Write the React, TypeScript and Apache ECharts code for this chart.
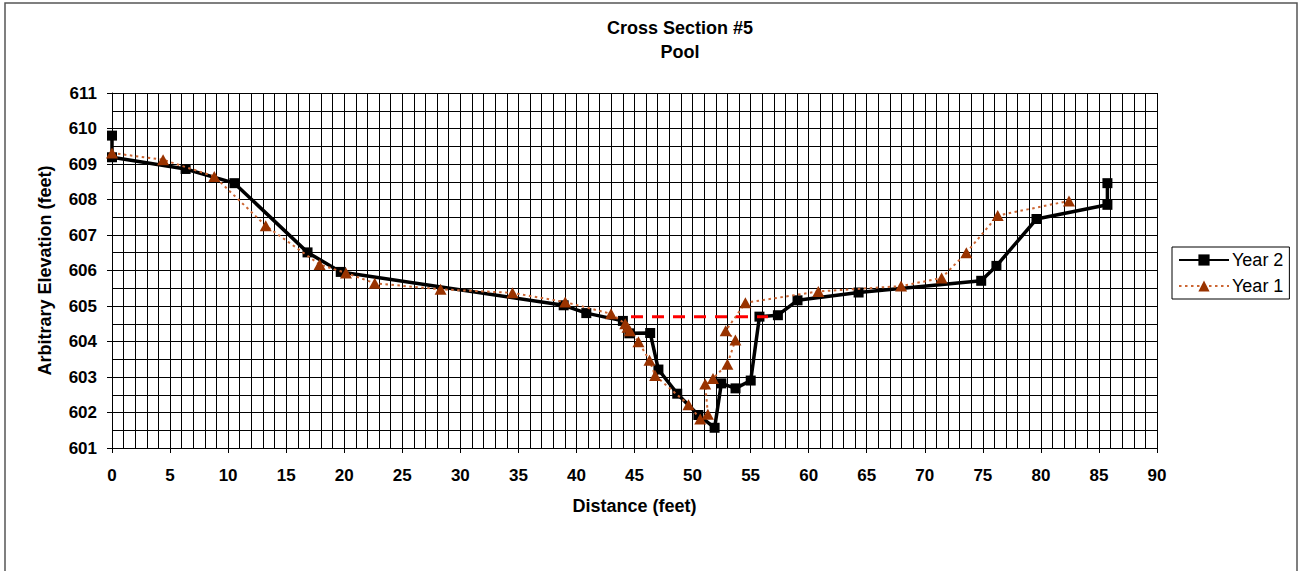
import React, { useEffect, useRef } from "react";
import * as echarts from "echarts";

const year2X = [0, 0, 6.34, 10.54, 16.84, 19.7, 38.9, 40.85, 44.0, 44.56, 46.35, 47.06, 48.68, 50.5, 51.9, 52.48, 53.7, 55.01, 55.76, 57.35, 59.04, 64.3, 74.86, 76.17, 79.62, 85.73, 85.73];
const year2Y = [609.8, 609.19, 608.86, 608.46, 606.51, 605.96, 605.02, 604.8, 604.58, 604.23, 604.24, 603.21, 602.53, 601.93, 601.57, 602.82, 602.68, 602.9, 604.7, 604.74, 605.16, 605.38, 605.71, 606.13, 607.45, 607.85, 608.46];

const year1X = [0, 4.4, 8.81, 13.24, 17.88, 20.15, 22.63, 28.3, 34.49, 39.03, 42.98, 44.2, 44.4, 44.6, 45.34, 46.29, 46.78, 49.65, 50.66, 51.32, 51.09, 51.76, 53.0, 53.69, 52.85, 54.55, 60.83, 67.96, 71.45, 73.58, 76.28, 82.42];
const year1Y = [609.31, 609.12, 608.65, 607.26, 606.17, 605.93, 605.64, 605.47, 605.37, 605.11, 604.78, 604.5, 604.4, 604.3, 603.99, 603.47, 603.04, 602.22, 601.82, 601.95, 602.8, 602.96, 603.36, 604.04, 604.3, 605.09, 605.41, 605.56, 605.79, 606.5, 607.55, 607.96];

const waterX = [44.7, 56.5];
const waterY = [604.7, 604.7];

const titleLines = ["Cross Section #5", "Pool"];
const xName = "Distance (feet)";
const yName = "Arbitrary Elevation (feet)";

const zip = (xs: number[], ys: number[]) => xs.map((x, i) => [x, ys[i]]);

const FONT = "'Liberation Sans', Arial, Helvetica, sans-serif";

export default function App() {
  const ref = useRef<HTMLDivElement>(null);
  useEffect(() => {
    if (!ref.current) return;
    const chart = echarts.init(ref.current, null, { renderer: "svg" });
    chart.setOption({
      animation: false,
      backgroundColor: "#ffffff",
      textStyle: { fontFamily: FONT },
      graphic: [
        {
          type: "rect",
          shape: { x: 5, y: 3, width: 1292, height: 600 },
          style: { fill: "none", stroke: "#555", lineWidth: 1.5 },
          silent: true,
        },
        {
          type: "text",
          x: 680,
          y: 28,
          style: {
            text: titleLines[0],
            font: `bold 18px ${FONT}`,
            fill: "#000",
            textAlign: "center",
            textVerticalAlign: "middle",
          },
        },
        {
          type: "text",
          x: 680,
          y: 52,
          style: {
            text: titleLines[1],
            font: `bold 18px ${FONT}`,
            fill: "#000",
            textAlign: "center",
            textVerticalAlign: "middle",
          },
        },
      ],
      grid: { left: 112, top: 93, right: 142, bottom: 123, containLabel: false },
      legend: {
        data: ["Year 2", "Year 1"],
        orient: "vertical",
        left: 1172,
        top: 247,
        padding: [4, 6],
        itemGap: 8,
        itemWidth: 50,
        itemHeight: 14,
        borderColor: "#000",
        borderWidth: 1,
        backgroundColor: "#fff",
        textStyle: { fontSize: 18, color: "#000", fontFamily: FONT, padding: [0, 0, 0, -2] },
      },
      xAxis: {
        type: "value",
        min: 0,
        max: 90,
        interval: 5,
        name: xName,
        nameLocation: "middle",
        nameGap: 49,
        nameTextStyle: { fontSize: 18, fontWeight: "bold", color: "#000", fontFamily: FONT },
        axisLine: { show: true, onZero: false, lineStyle: { color: "#000", width: 1 } },
        axisTick: { show: true, length: 5, lineStyle: { color: "#000" } },
        axisLabel: { fontSize: 17, fontWeight: "bold", color: "#000", margin: 19, fontFamily: FONT },
        splitLine: { show: true, lineStyle: { color: "#000", width: 1 } },
        minorTick: { show: false, splitNumber: 5 },
        minorSplitLine: { show: true, lineStyle: { color: "#000", width: 1 } },
      },
      yAxis: {
        type: "value",
        min: 601,
        max: 611,
        interval: 1,
        name: yName,
        nameLocation: "middle",
        nameGap: 58,
        nameRotate: 90,
        nameTextStyle: { fontSize: 18, fontWeight: "bold", color: "#000", fontFamily: FONT },
        axisLine: { show: true, lineStyle: { color: "#000", width: 1 } },
        axisTick: { show: true, length: 5, lineStyle: { color: "#000" } },
        axisLabel: { fontSize: 17, fontWeight: "bold", color: "#000", margin: 15, fontFamily: FONT },
        splitLine: { show: true, lineStyle: { color: "#000", width: 1 } },
        minorTick: { show: false, splitNumber: 2 },
        minorSplitLine: { show: true, lineStyle: { color: "#000", width: 1 } },
      },
      series: [
        {
          name: "Year 2",
          type: "line",
          data: zip(year2X, year2Y),
          symbol: "rect",
          symbolSize: 10,
          itemStyle: { color: "#000" },
          lineStyle: { color: "#000", width: 3.5 },
          z: 2,
        },
        {
          name: "Year 1",
          type: "line",
          data: zip(year1X, year1Y),
          symbol: "triangle",
          symbolSize: [12, 11],
          itemStyle: { color: "#993300" },
          lineStyle: { color: "#CC6633", width: 2, type: [2.5, 3.5] },
          z: 3,
        },
        {
          name: "Water",
          type: "line",
          data: zip(waterX, waterY),
          symbol: "none",
          lineStyle: { color: "#FF0000", width: 3, type: [12, 9] },
          z: 4,
        },
      ],
    });
    return () => chart.dispose();
  }, []);
  return (
    <div
      ref={ref}
      style={{ position: "fixed", left: 0, top: 0, width: 1299, height: 571, background: "#fff" }}
    />
  );
}
